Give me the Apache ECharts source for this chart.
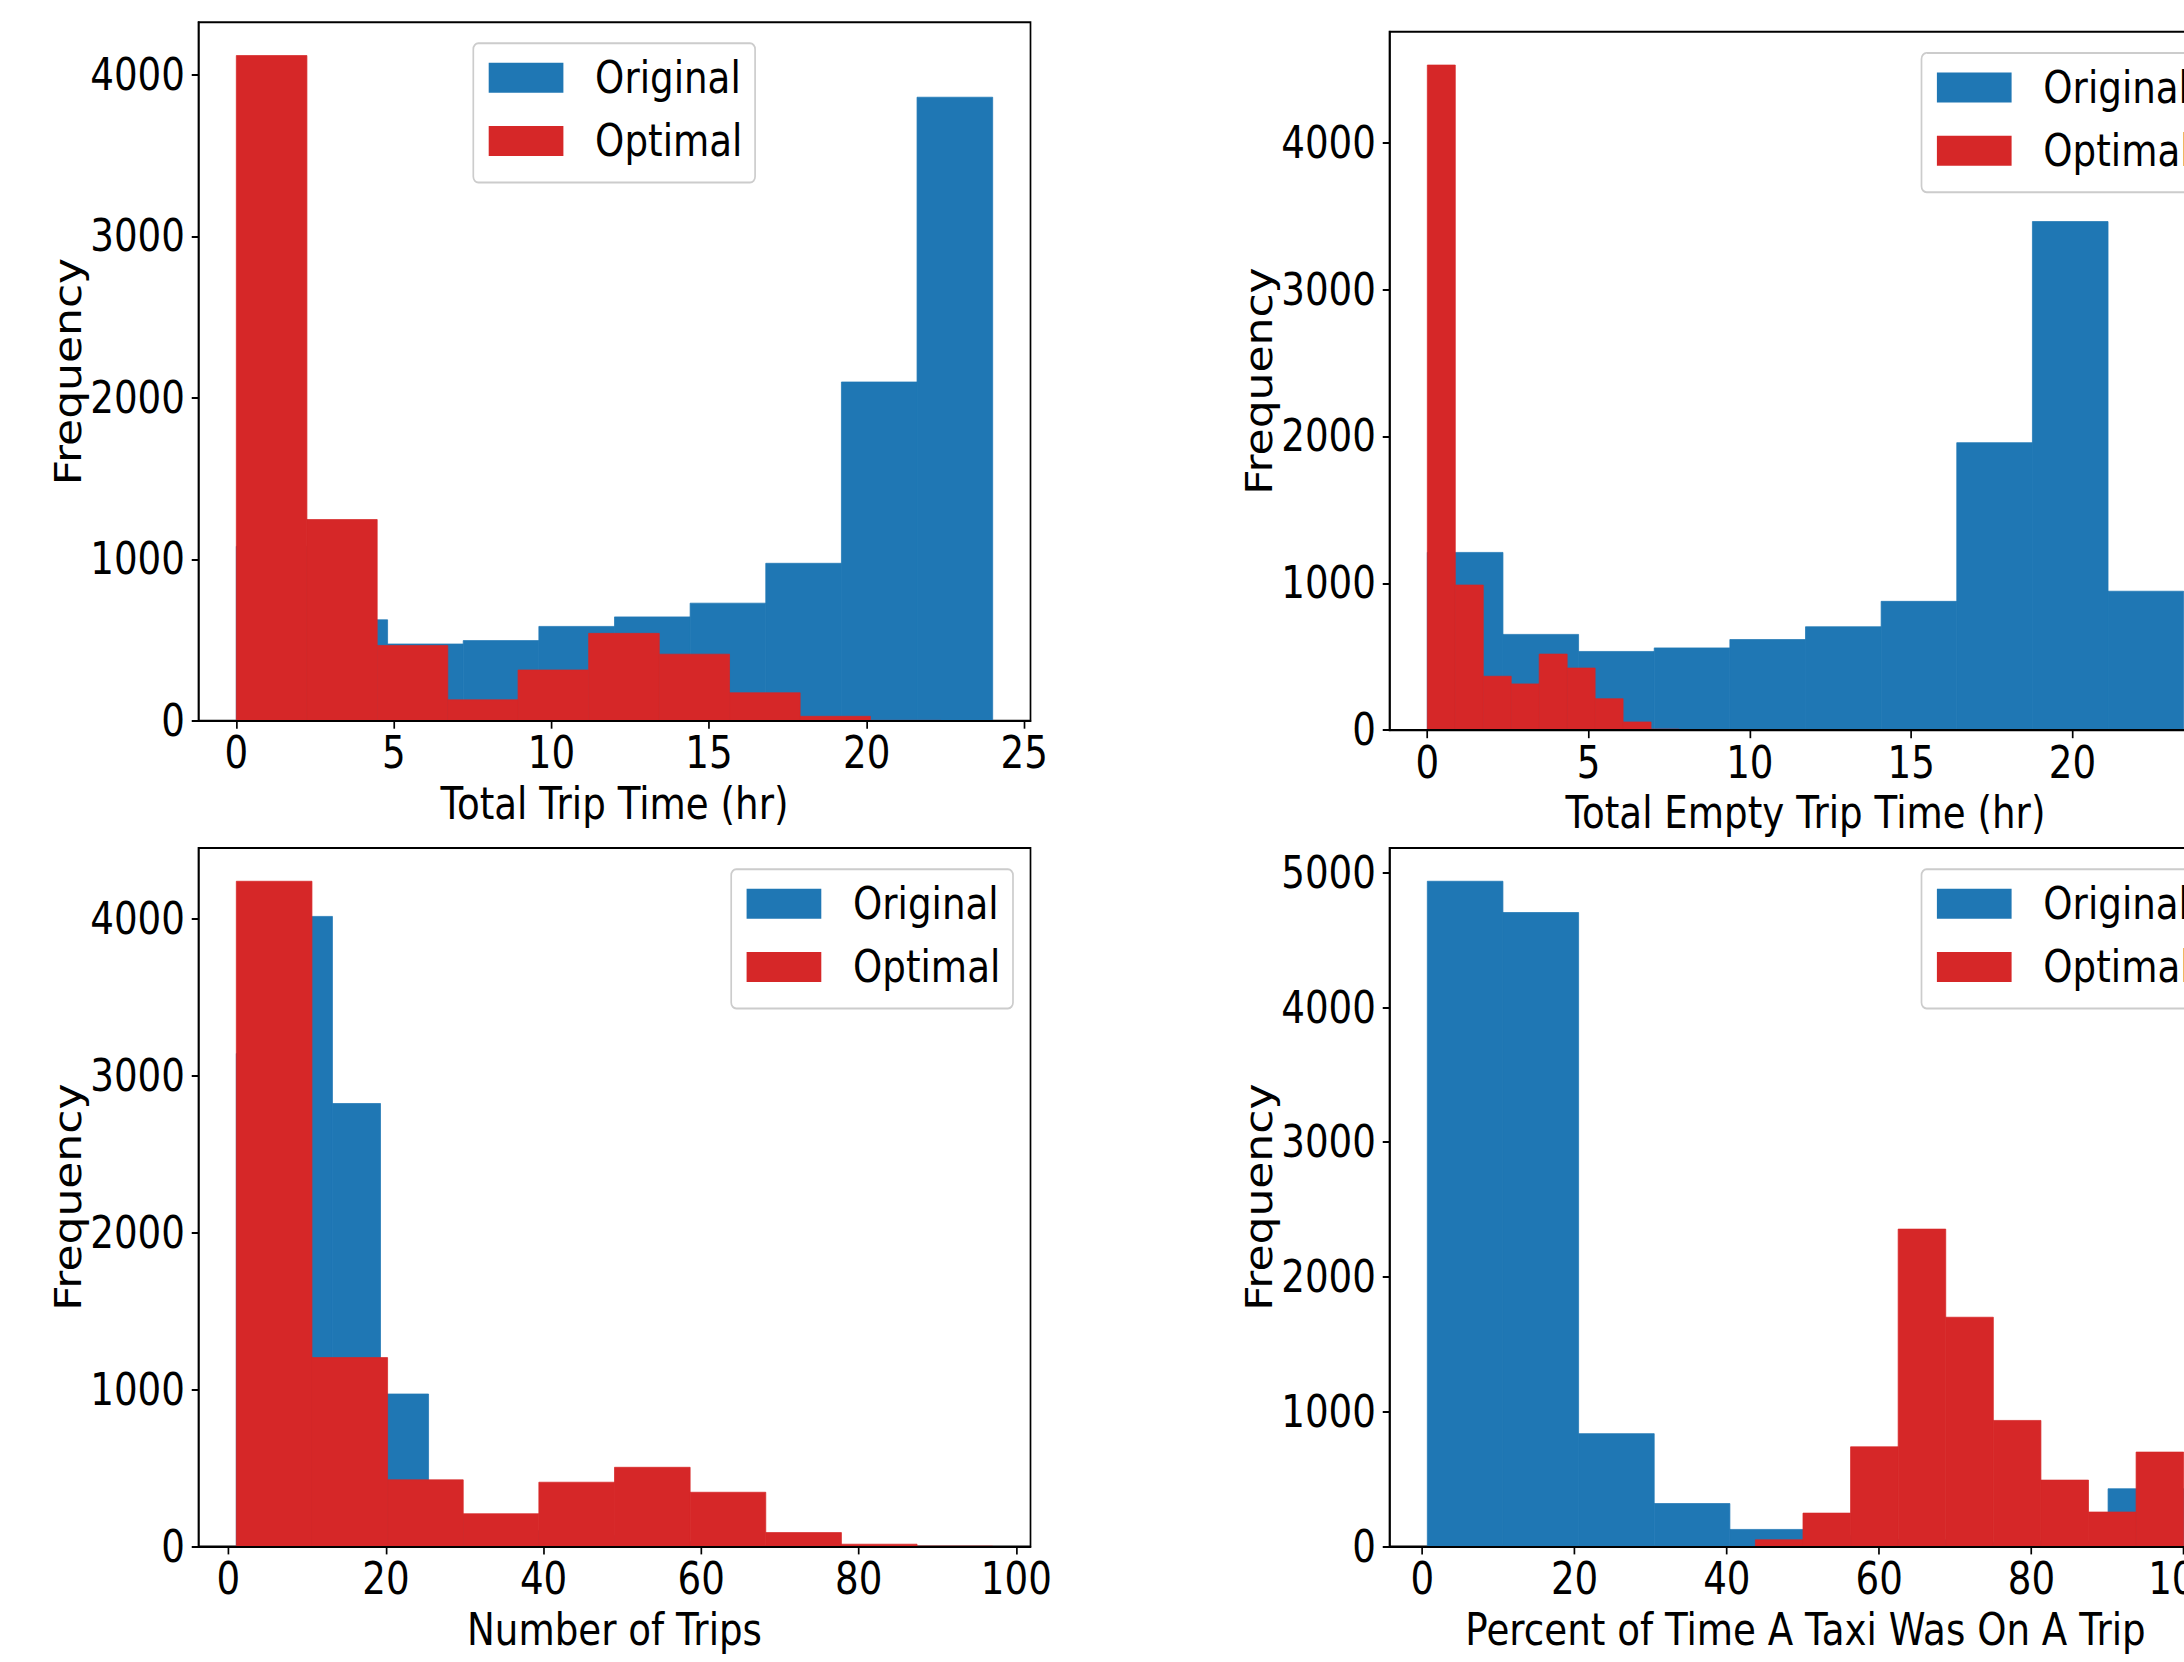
<!DOCTYPE html>
<html>
<head>
<meta charset="utf-8">
<script src="https://cdn.jsdelivr.net/npm/echarts@6.0.0/dist/echarts.min.js"></script>
<style>
  html, body { margin: 0; padding: 0; background: #fff; overflow: hidden; }
  /* the source figure was squeezed horizontally; reproduce that with scaleX */
  #wrap { width: 2582px; height: 1662px; transform: scaleX(0.846); transform-origin: 0 0; }
  #chart { width: 100%; height: 100%; }
</style>
</head>
<body>
<div id="wrap"><div id="chart"></div></div>
<script>
// ---- data: histogram bin edges + counts ----
// Total Trip Time (hr)
const tripOrigEdges = [0, 2.4, 4.8, 7.2, 9.6, 12.0, 14.4, 16.8, 19.2, 21.6, 24.0]
const tripOrigCounts = [1080, 625, 475, 496, 584, 643, 728, 975, 2098, 3862]
const tripOptEdges = [0, 2.24, 4.47, 6.71, 8.94, 11.18, 13.42, 15.65, 17.89, 20.12, 22.36]
const tripOptCounts = [4120, 1246, 466, 129, 314, 541, 412, 173, 27, 2]

// Total Empty Trip Time (hr)
const emptyOrigEdges = [0, 2.345, 4.69, 7.035, 9.38, 11.725, 14.07, 16.415, 18.76, 21.105, 23.45]
const emptyOrigCounts = [1210, 652, 536, 560, 617, 704, 877, 1957, 3462, 946]
const emptyOptEdges = [0, 0.867, 1.734, 2.601, 3.468, 4.335, 5.202, 6.069, 6.936, 7.803, 8.67]
const emptyOptCounts = [4527, 988, 367, 315, 518, 423, 214, 56, 7, 2]

// Number of Trips
const tripsOrigEdges = [1, 7.1, 13.2, 19.3, 25.4, 31.5, 37.6, 43.7, 49.8, 55.9, 62]
const tripsOrigCounts = [3140, 4014, 2822, 971, 200, 150, 100, 70, 50, 30]
const tripsOptEdges = [1, 10.6, 20.2, 29.8, 39.4, 49, 58.6, 68.2, 77.8, 87.4, 97]
const tripsOptCounts = [4238, 1203, 424, 208, 409, 504, 345, 88, 14, 1]

// Percent of Time A Taxi Was On A Trip
const pctOrigEdges = [0.66, 10.59, 20.53, 30.46, 40.4, 50.33, 60.26, 70.2, 80.13, 90.07, 100.0]
const pctOrigCounts = [4937, 4705, 837, 318, 126, 80, 50, 30, 40, 428]
const pctOptEdges = [43.75, 50.0, 56.25, 62.5, 68.75, 75.0, 81.25, 87.5, 93.75, 100.0]
const pctOptCounts = [49, 247, 739, 2355, 1701, 935, 492, 255, 700]

// tick labels
const ticks25 = [0, 5, 10, 15, 20, 25]
const ticks100 = [0, 20, 40, 60, 80, 100]
const freqTicks4k = [0, 1000, 2000, 3000, 4000]
const freqTicks5k = [0, 1000, 2000, 3000, 4000, 5000]

const SERIES_NAMES = ['Original', 'Optimal']
const COLORS = ['#1f77b4', '#d62728']
const FONT = 'DejaVu Sans'
const FS = 44
const S = 0.846           // horizontal squeeze of the whole figure
const hx = v => v / S     // screen px -> unscaled px (horizontal only)

// panel layout in screen pixels
const panels = [
  { xName: 'Total Trip Time (hr)', left: 198.5, top: 22.3, legLeft: 473.3, legTop: 43.3,
    orig: [tripOrigEdges, tripOrigCounts], opt: [tripOptEdges, tripOptCounts], xTicks: ticks25, yTicks: freqTicks4k },
  { xName: 'Total Empty Trip Time (hr)', left: 1389.5, top: 31.8, legLeft: 1921.5, legTop: 53,
    orig: [emptyOrigEdges, emptyOrigCounts], opt: [emptyOptEdges, emptyOptCounts], xTicks: ticks25, yTicks: freqTicks4k },
  { xName: 'Number of Trips', left: 198.5, top: 848, legLeft: 731.2, legTop: 869.2,
    orig: [tripsOrigEdges, tripsOrigCounts], opt: [tripsOptEdges, tripsOptCounts], xTicks: ticks100, yTicks: freqTicks4k },
  { xName: 'Percent of Time A Taxi Was On A Trip', left: 1389.5, top: 848, legLeft: 1921.5, legTop: 869.2,
    orig: [pctOrigEdges, pctOrigCounts], opt: [pctOptEdges, pctOptCounts], xTicks: ticks100, yTicks: freqTicks5k }
]
const PLOT_W = 832
const PLOT_H = 698.4

function bins(edges, counts) {
  return counts.map((c, i) => [edges[i], edges[i + 1], c])
}

// one rect per histogram bin, through the axis scales
function renderBin(params, api) {
  const lo = api.coord([api.value(0), 0])
  const hi = api.coord([api.value(1), api.value(2)])
  const c = api.visual('color')
  return {
    type: 'rect',
    shape: { x: lo[0], y: hi[1], width: hi[0] - lo[0], height: lo[1] - hi[1] },
    style: { fill: c, stroke: c, lineWidth: 0.8 }
  }
}

const TXT = { fontFamily: FONT, fontSize: FS, color: '#000' }
const LINE = { color: '#000', width: 2 }

const option = { animation: false, grid: [], xAxis: [], yAxis: [], legend: [], series: [] }

panels.forEach((p, i) => {
  const lo = Math.min(p.orig[0][0], p.opt[0][0])
  const hi = Math.max(p.orig[0][p.orig[0].length - 1], p.opt[0][p.opt[0].length - 1])
  const pad = 0.05 * (hi - lo)
  const yMax = 1.05 * Math.max(...p.orig[1], ...p.opt[1])

  option.grid.push({
    left: hx(p.left), top: p.top, width: hx(PLOT_W), height: PLOT_H,
    outerBoundsMode: 'none',
    show: true, borderColor: '#000', borderWidth: 2, backgroundColor: 'transparent'
  })
  option.xAxis.push({
    gridIndex: i, type: 'value', min: lo - pad, max: hi + pad, z: 10,
    name: p.xName, nameLocation: 'middle', nameGap: 61, nameTextStyle: TXT,
    axisLine: { onZero: false, lineStyle: LINE },
    axisTick: { length: 8, lineStyle: LINE, customValues: p.xTicks },
    axisLabel: { ...TXT, margin: 10.5, customValues: p.xTicks, formatter: v => String(v) },
    splitLine: { show: false }
  })
  option.yAxis.push({
    gridIndex: i, type: 'value', min: 0, max: yMax, z: 10,
    name: 'Frequency', nameLocation: 'middle', nameGap: 129, nameTextStyle: TXT,
    axisLine: { onZero: false, lineStyle: LINE },
    axisTick: { length: 8, lineStyle: LINE, customValues: p.yTicks },
    axisLabel: { ...TXT, margin: 16, customValues: p.yTicks, formatter: v => String(v) },
    splitLine: { show: false }
  })
  option.legend.push({
    orient: 'vertical', left: hx(p.legLeft), top: p.legTop,
    icon: 'rect', itemWidth: hx(74.7), itemHeight: 30, itemGap: 18.3,
    padding: [12, 15, 19, 18.2],
    borderColor: '#cccccc', borderWidth: 2, borderRadius: 6, backgroundColor: 'rgba(255,255,255,0.8)',
    textStyle: { ...TXT, padding: [0, 0, 0, 32.5], lineHeight: 45 },
    selectedMode: false, data: SERIES_NAMES
  })
  ;[p.orig, p.opt].forEach((h, k) => {
    option.series.push({
      type: 'custom', name: SERIES_NAMES[k], xAxisIndex: i, yAxisIndex: i,
      itemStyle: { color: COLORS[k] }, color: COLORS[k],
      renderItem: renderBin, encode: { x: [0, 1], y: 2 },
      data: bins(h[0], h[1]), z: 2 + k
    })
  })
})

const chart = echarts.init(document.getElementById('chart'), null, { renderer: 'svg' })
chart.setOption(option)
</script>
</body>
</html>
